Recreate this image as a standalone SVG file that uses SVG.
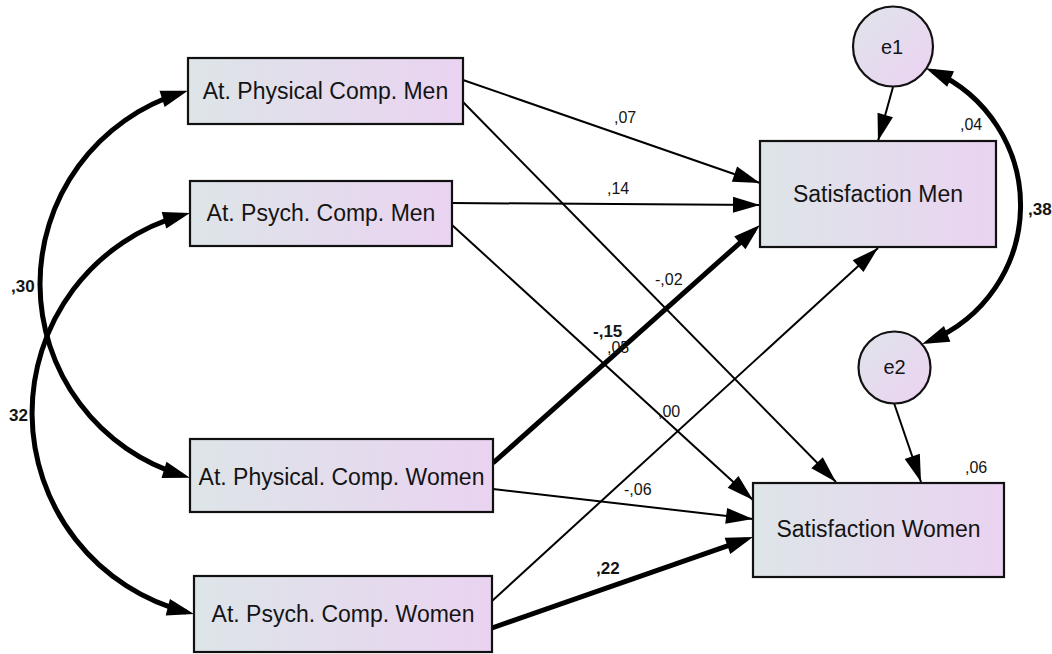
<svg xmlns="http://www.w3.org/2000/svg" width="1052" height="654" viewBox="0 0 1052 654">
<style>
.box{stroke:#111;stroke-width:2.2;fill:url(#gBox)}
.circ{stroke:#111;stroke-width:2.2;fill:url(#gCirc)}
.lbl{font-family:"Liberation Sans",Arial,sans-serif;font-size:23px;fill:#141414;text-anchor:middle}
.elbl{font-family:"Liberation Sans",Arial,sans-serif;font-size:20px;fill:#141414;text-anchor:middle}
.num{font-family:"Liberation Sans",Arial,sans-serif;font-size:16px;fill:#141414}
.bnum{font-family:"Liberation Sans",Arial,sans-serif;font-size:17px;font-weight:bold;fill:#141414}
.thin{stroke:#000;stroke-width:2;fill:none;marker-end:url(#ah)}
.thick{stroke:#000;stroke-width:5;fill:none;marker-end:url(#ahT)}
.cov{stroke:#000;stroke-width:5;fill:none;marker-start:url(#ahT);marker-end:url(#ahT)}
</style>
<defs>
<linearGradient id="gBox" x1="0" y1="0" x2="1" y2="0">
<stop offset="0" stop-color="#dde5e8"/>
<stop offset="1" stop-color="#ead3f1"/>
</linearGradient>
<linearGradient id="gCirc" x1="0" y1="0" x2="1" y2="1">
<stop offset="0" stop-color="#dfe4ea"/>
<stop offset="1" stop-color="#ecd2f2"/>
</linearGradient>
<marker id="ah" markerUnits="userSpaceOnUse" markerWidth="28" markerHeight="16" refX="27" refY="8" orient="auto-start-reverse" overflow="visible">
<path d="M0,0 L27,8 L0,16 z" fill="#000"/>
</marker>
<marker id="ahT" markerUnits="userSpaceOnUse" markerWidth="28" markerHeight="17" refX="19" refY="8.5" orient="auto-start-reverse" overflow="visible">
<path d="M0,0 L27,8.5 L0,17 z" fill="#000"/>
</marker>
</defs>
<rect width="1052" height="654" fill="#fff"/>

<g id="connectors">
<line class="thin" x1="463" y1="80" x2="760" y2="183"/>
<line class="thin" x1="463" y1="102" x2="836" y2="482"/>
<line class="thin" x1="452" y1="203" x2="760" y2="205"/>
<line class="thin" x1="452" y1="225" x2="753" y2="500"/>
<line class="thick" x1="493" y1="463" x2="754" y2="230.3"/>
<line class="thin" x1="493" y1="489" x2="753" y2="519"/>
<line class="thin" x1="492" y1="601" x2="878" y2="248"/>
<line class="thick" x1="492" y1="628" x2="745.4" y2="539.6"/>
<line class="thin" x1="893" y1="87" x2="878" y2="141"/>
<line class="thin" x1="894" y1="403" x2="921" y2="482"/>
<path class="cov" d="M180.2,93.1 A200 200 0 0 0 182.2,475.4"/>
<path class="cov" d="M182.3,215.1 A205.5 205.5 0 0 0 186.2,612"/>
<path class="cov" d="M933.2,71.4 A146.5 146.5 0 0 1 929.6,341"/>
</g>

<g id="APCM">
<rect class="box" x="188" y="58" width="275" height="66"/>
<text class="lbl" x="325.5" y="99">At. Physical Comp. Men</text>
</g>
<g id="APsyCM">
<rect class="box" x="190" y="181" width="262" height="65"/>
<text class="lbl" x="321" y="221">At. Psych. Comp. Men</text>
</g>
<g id="APCW">
<rect class="box" x="190" y="439" width="303" height="73"/>
<text class="lbl" x="341.5" y="485">At. Physical. Comp. Women</text>
</g>
<g id="APsyCW">
<rect class="box" x="194" y="576" width="298" height="76"/>
<text class="lbl" x="343" y="622">At. Psych. Comp. Women</text>
</g>
<g id="SM">
<rect class="box" x="760" y="141" width="236" height="106"/>
<text class="lbl" x="878" y="202">Satisfaction Men</text>
</g>
<g id="SW">
<rect class="box" x="753" y="483" width="251" height="94"/>
<text class="lbl" x="878.5" y="537">Satisfaction Women</text>
</g>
<g id="e1">
<circle class="circ" cx="893" cy="46.5" r="40"/>
<text class="elbl" x="892" y="54">e1</text>
</g>
<g id="e2">
<circle class="circ" cx="894.5" cy="367.5" r="36"/>
<text class="elbl" x="894.5" y="374">e2</text>
</g>

<g id="labels">
<text class="num" x="614" y="123">,07</text>
<text class="num" x="607" y="194">,14</text>
<text class="num" x="655" y="285">-,02</text>
<text class="num" x="960" y="130">,04</text>
<text class="bnum" x="1028" y="215">,38</text>
<text class="bnum" x="593" y="337">-,15</text>
<text class="num" x="607" y="353">,05</text>
<text class="num" x="658" y="417">,00</text>
<text class="num" x="624" y="495">-,06</text>
<text class="bnum" x="596" y="574">,22</text>
<text class="num" x="965" y="473">,06</text>
<text class="bnum" x="11" y="292">,30</text>
<text class="bnum" x="9" y="421">32</text>
</g>
</svg>
